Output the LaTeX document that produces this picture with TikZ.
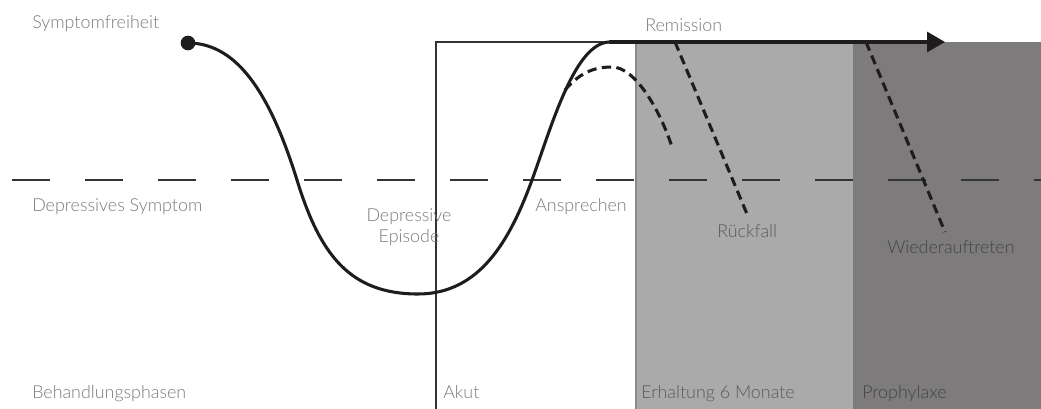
\documentclass[tikz,border=0pt]{standalone}
\usepackage{fontspec}
\setmainfont{Lato}[UprightFont={* Light}]
\usepackage{tikz}
\usetikzlibrary{arrows.meta, positioning, calc}
\definecolor{phaseInk}{HTML}{1E1C1D}
\definecolor{phaseLine}{HTML}{333333}
\definecolor{phaseMuted}{HTML}{7A7A7A}
\definecolor{phaseLight}{HTML}{AAAAAA}
\definecolor{phaseLightEdge}{HTML}{8A8A8A}
\definecolor{phaseDark}{HTML}{7D7B7C}
\definecolor{phaseLightText}{HTML}{5A5A5A}
\definecolor{phaseDarkText}{HTML}{444444}

\begin{document}
\begin{tikzpicture}[
    x=0.75pt, y=-0.75pt,
    label/.style={font=\fontsize{13.4}{15}\selectfont, text=phaseMuted, inner sep=0pt, anchor=base west},
    course/.style={line width=2.3pt, draw=phaseInk, line cap=round},
    relapse/.style={line width=2.3pt, draw=phaseInk, dash pattern=on 7pt off 4pt},
    threshold/.style={line width=1.1pt, draw=phaseLine, dash pattern=on 28.5pt off 26.25pt},
    startdot/.style={circle, fill=phaseInk, inner sep=0pt, minimum size=11pt}
]
    \useasboundingbox (0,0) rectangle (1041,409);

    % phases
    \fill[phaseLight] (636,42) rectangle (853,409);
    \fill[phaseDark] (853,42) rectangle (1041,409);
    \draw[phaseLightEdge, line width=1.2pt] (636,42) -- (636,409);

    \draw[threshold] (12,180) -- (1041,180);
    \draw[phaseLine, line width=1.1pt] (436,409) -- (436,42) -- (636,42);

    % course of the episode
    \node[startdot] (start) at (188,43) {};
    \coordinate (down) at (297,180);
    \coordinate (bottom) at (418,294);
    \coordinate (up) at (532,180);
    \coordinate (split) at (565,90);
    \coordinate (top) at (610,42);
    \coordinate (arrowend) at (945,42);

    \draw[course] (start.center) .. controls (240,43) and (272,100) .. (down)
        .. controls (320,255) and (350,294) .. (bottom)
        .. controls (480,294) and (510,240) .. (up)
        .. controls (552,125) and (575,42) .. (top);
    \draw[course, -{Triangle[length=13.5pt, width=15pt]}] (top) -- (arrowend);

    \coordinate (peak) at (612,67);
    \coordinate (dropend) at (672,147);
    \draw[relapse] (split) .. controls (582,70) and (598,67) .. (peak)
        .. controls (635,67) and (660,110) .. (dropend);

    \coordinate (rueckTop) at (675,42);
    \coordinate (rueckEnd) at (747,214);
    \coordinate (wiederTop) at (866,42);
    \coordinate (wiederEnd) at (945,232);
    \draw[relapse] (rueckTop) -- (rueckEnd);
    \draw[relapse] (wiederTop) -- (wiederEnd);

    % labels
    \node[label] (symptomfrei) at (32,29) {Symptomfreiheit};
    \node[label] (remission) at (645,32) {Remission};
    \node[label] (symptom) at (32,212) {Depressives Symptom};
    \node[label] (ansprechen) at (535,212) {Ansprechen};
    \node[label, anchor=base, align=center] (episode) at (409,243) {Depressive\\[1pt]Episode};
    \node[label, text=phaseLightText] (rueckfall) at (717,238) {Rückfall};
    \node[label, text=phaseDarkText] (wieder) at (887,254) {Wiederauftreten};

    \node[label] (phasen) at (32,398) {Behandlungsphasen};
    \node[label] (akut) at (443,398) {Akut};
    \node[label, text=phaseLightText] (erhaltung) at (641,398) {Erhaltung 6 Monate};
    \node[label, text=phaseDarkText] (prophylaxe) at (862,398) {Prophylaxe};
\end{tikzpicture}
\end{document}
